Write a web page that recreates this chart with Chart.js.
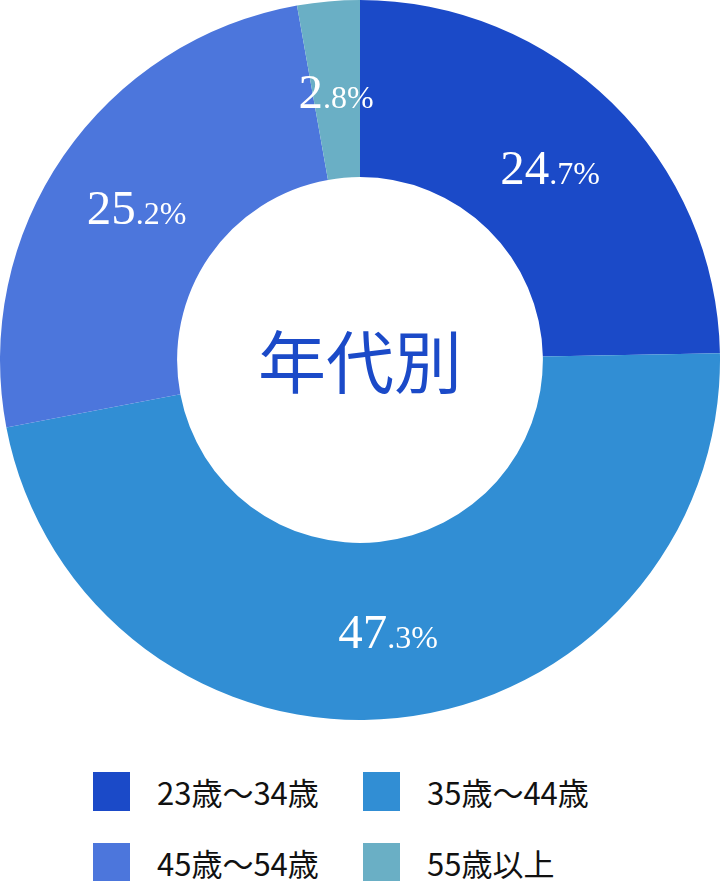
<!DOCTYPE html>
<html>
<head>
<meta charset="utf-8">
<script src="https://cdn.jsdelivr.net/npm/chart.js@4/dist/chart.umd.min.js"></script>
<style>
  html, body { margin: 0; padding: 0; background: #fff; }
  #wrap { position: relative; width: 720px; height: 881px; }
  #chartBox { position: absolute; left: 0; top: 0; width: 720px; height: 720px; }
  .lg { position: absolute; display: flex; align-items: center; font-family: "Noto Sans CJK JP", "Noto Sans", sans-serif; font-size: 31px; color: #111; }
  .lg .sw { width: 37px; height: 39px; margin-right: 27px; }
</style>
</head>
<body>
<div id="wrap">
  <div id="chartBox"><canvas id="c" width="720" height="720"></canvas></div>
  <div id="legend"></div>
</div>
<script>
const categories = ["23歳～34歳", "35歳～44歳", "45歳～54歳", "55歳以上"];
const values = [24.7, 47.3, 25.2, 2.8];
const colors = ["#1B4AC8", "#318ED4", "#4C76DC", "#6AAFC5"];
const centerTitle = "年代別";

const labelPlugin = {
  id: "segLabels",
  afterDatasetsDraw(chart) {
    const ctx = chart.ctx;
    const meta = chart.getDatasetMeta(0);
    meta.data.forEach((arc, i) => {
      const p = arc.getCenterPoint();
      const s = values[i].toFixed(1);
      const dot = s.indexOf(".");
      const big = s.slice(0, dot);
      const small = s.slice(dot) + "%";
      ctx.save();
      ctx.fillStyle = "#ffffff";
      ctx.textBaseline = "alphabetic";
      ctx.textAlign = "left";
      const bigFont = "49px 'Liberation Serif', 'DejaVu Serif', serif";
      const smallFont = "32px 'Liberation Serif', 'DejaVu Serif', serif";
      ctx.font = bigFont;
      const wb = ctx.measureText(big).width;
      ctx.font = smallFont;
      const ws = ctx.measureText(small).width;
      const x0 = p.x - (wb + ws) / 2;
      const base = p.y + 18;
      ctx.font = bigFont;
      ctx.fillText(big, x0, base);
      ctx.font = smallFont;
      ctx.fillText(small, x0 + wb, base);
      ctx.restore();
    });
    // center title
    const a = meta.data[0];
    ctx.save();
    ctx.fillStyle = "#1B4AC8";
    ctx.font = "68px 'Noto Sans CJK JP', sans-serif";
    ctx.textAlign = "center";
    ctx.textBaseline = "middle";
    ctx.fillText(centerTitle, a.x, a.y + 2);
    ctx.restore();
  }
};

new Chart(document.getElementById("c"), {
  type: "doughnut",
  data: {
    labels: categories,
    datasets: [{
      data: values,
      backgroundColor: colors,
      borderWidth: 0,
      hoverOffset: 0
    }]
  },
  options: {
    responsive: false,
    animation: false,
    cutout: "50.8%",
    layout: { padding: 0 },
    plugins: {
      legend: { display: false },
      tooltip: { enabled: false }
    }
  },
  plugins: [labelPlugin]
});

// HTML legend built from data arrays
const legend = document.getElementById("legend");
const colX = [93, 363];
const rowY = [769, 840];
categories.forEach((cat, i) => {
  const d = document.createElement("div");
  d.className = "lg";
  d.style.left = colX[i % 2] + "px";
  d.style.top = rowY[Math.floor(i / 2)] + "px";
  const sw = document.createElement("div");
  sw.className = "sw";
  sw.style.background = colors[i];
  const t = document.createElement("span");
  t.textContent = cat;
  d.appendChild(sw);
  d.appendChild(t);
  legend.appendChild(d);
});
</script>
</body>
</html>
